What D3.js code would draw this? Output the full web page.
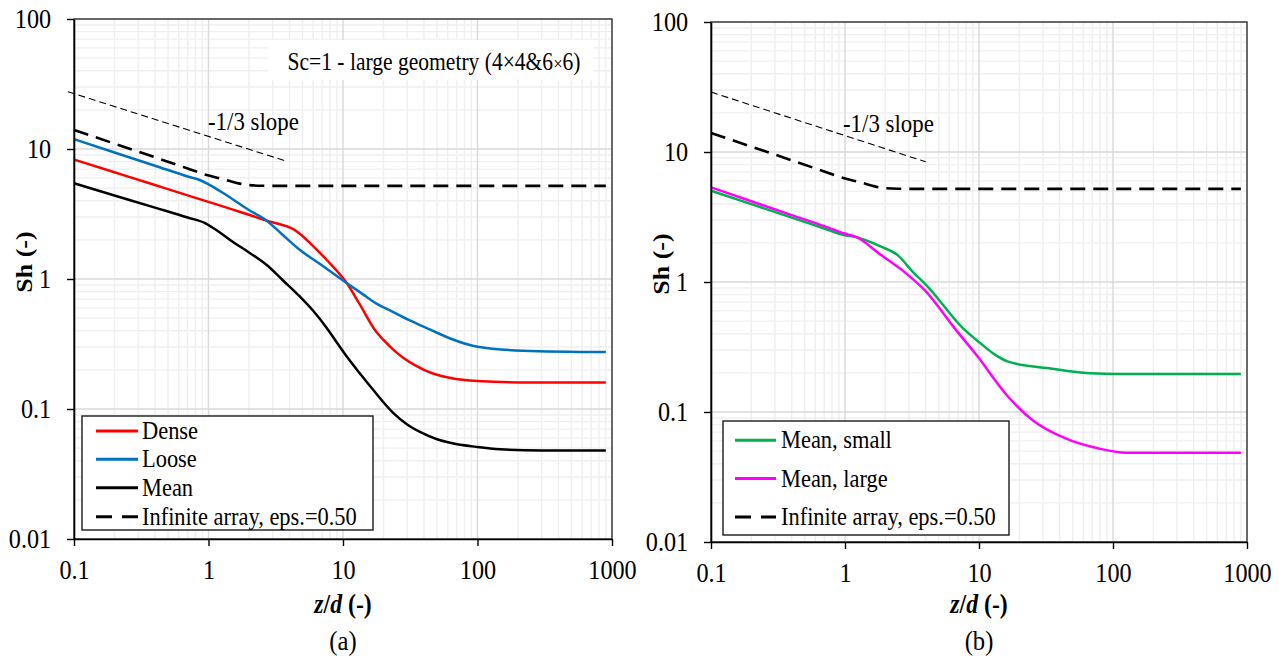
<!DOCTYPE html>
<html>
<head>
<meta charset="utf-8">
<script src="https://cdn.jsdelivr.net/npm/d3@7"></script>
<style>
  body { margin: 0; background: #fff; }
  svg { display: block; }
</style>
</head>
<body>
<div id="chart-area"></div>
<script>
// axis ticks (both panels)
const xTicks = [0.1, 1, 10, 100, 1000];
const yTicks = [0.01, 0.1, 1, 10, 100];

// panel (a) - large geometry
const denseZ  = [0.1, 0.2, 0.4, 0.7, 1.0, 1.5, 2.0, 2.71, 3.3, 3.8, 4.3, 4.8, 5.69, 7.57, 10.7, 13.3, 17.6, 20, 23.3, 28, 35, 45, 62, 100, 250, 900];
const denseSh = [8.3, 6.62, 5.28, 4.4, 3.92, 3.43, 3.12, 2.81, 2.66, 2.55, 2.41, 2.22, 1.89, 1.40, 0.927, 0.64, 0.394, 0.34, 0.29, 0.248, 0.215, 0.19, 0.174, 0.164, 0.160, 0.160];

const looseZ  = [0.1, 0.2, 0.4, 0.7, 0.87, 1.0, 1.3, 2.04, 2.71, 3.5, 4.79, 7, 10.7, 14, 17.6, 22, 30.8, 45, 62, 100, 218, 900];
const looseSh = [11.9, 9.4, 7.44, 6.15, 5.75, 5.35, 4.55, 3.35, 2.81, 2.22, 1.67, 1.27, 0.927, 0.765, 0.65, 0.578, 0.484, 0.406, 0.35, 0.301, 0.281, 0.274];

const meanZ  = [0.1, 0.2, 0.4, 0.7, 0.95, 1.2, 1.53, 2.0, 2.71, 3.6, 4.79, 6, 7.57, 9, 10.7, 13.5, 16.8, 23.7, 30, 38, 50, 62.5, 100, 147, 300, 900];
const meanSh = [5.45, 4.39, 3.54, 2.97, 2.68, 2.3, 1.92, 1.6, 1.28, 0.97, 0.731, 0.57, 0.42, 0.325, 0.252, 0.185, 0.14, 0.093, 0.076, 0.066, 0.0585, 0.055, 0.051, 0.049, 0.048, 0.048];

// infinite array, eps.=0.50 (same in both panels)
const infZ  = [0.1, 0.2, 0.4, 0.7, 0.97, 1.3, 1.6, 1.9, 2.5, 4, 10, 100, 900];
const infSh = [14, 11.0, 8.63, 7.08, 6.3, 5.85, 5.5, 5.3, 5.22, 5.2, 5.2, 5.2, 5.2];

// -1/3 slope guide lines
const slopeAZ  = [0.09, 3.7];
const slopeASh = [27.6, 8.13];
const slopeBZ  = [0.1, 4.0];
const slopeBSh = [28.9, 8.4];

// panel (b) - small vs large
const smallZ  = [0.1, 0.2, 0.4, 0.7, 0.977, 1.22, 1.86, 2.47, 3.27, 4.04, 7.6, 9.58, 13.3, 16.5, 33.2, 67, 150, 900];
const smallSh = [5.04, 3.97, 3.13, 2.58, 2.30, 2.21, 1.87, 1.61, 1.17, 0.948, 0.44, 0.358, 0.274, 0.244, 0.217, 0.199, 0.196, 0.196];

const largeZ  = [0.1, 0.2, 0.4, 0.7, 0.977, 1.22, 1.86, 2.84, 4.04, 6.59, 9.58, 16.5, 25, 47.2, 77, 126, 300, 900];
const largeSh = [5.35, 4.18, 3.27, 2.69, 2.37, 2.21, 1.61, 1.17, 0.841, 0.44, 0.274, 0.131, 0.0868, 0.061, 0.0526, 0.0486, 0.0485, 0.0485];


// canvas
const svgWidth = 1285,
      svgHeight = 659;

const FONT = "'Liberation Serif', 'Times New Roman', serif";
const SX = 0.88;   // the source picture is squeezed a bit horizontally

var svg = d3.select("#chart-area")
    .append("svg")
    .attr("width", svgWidth)
    .attr("height", svgHeight)
    .style("font-family", FONT);

// text helper: places text and squeezes it like the original
function addText(g, x, y, str, size, opts){
    opts = opts || {};
    var t = g.append("text")
	.attr("transform", "translate(" + x + "," + y + ")" +
	      (opts.rotate ? " rotate(-90) scale(1," + SX + ")" : " scale(" + SX + ",1)"))
	.attr("font-family", FONT)
	.attr("font-size", size + "px")
	.attr("text-anchor", opts.anchor || "start")
	.attr("fill", "#000");
    if (opts.bold) t.attr("font-weight", "bold");
    if (str) t.text(str);
    return t;
}

const panels = [
    {
	box: {left: 74, top: 19, width: 538, height: 520},
	series: [
	    {z: denseZ, sh: denseSh, color: "#ff0000", width: 2.5},
	    {z: looseZ, sh: looseSh, color: "#0070c0", width: 2.5},
	    {z: meanZ, sh: meanSh, color: "#000000", width: 2.5},
	    {z: infZ, sh: infSh, color: "#000000", width: 2.6, dash: "15,8"}
	],
	slope: {z: slopeAZ, sh: slopeASh, textX: 208, textY: 130},
	legend: {x: 82, y: 416, w: 291, h: 114, rows: [15, 43.3, 71.7, 100.7], lineX: [14, 56], textX: 60,
		 labels: ["Dense", "Loose", "Mean", "Infinite array, eps.=0.50"]},
	note: true,
	yTitle: [32, 262], caption: "(a)"
    },
    {
	box: {left: 711, top: 22, width: 536, height: 520},
	series: [
	    {z: smallZ, sh: smallSh, color: "#00b050", width: 2.5},
	    {z: largeZ, sh: largeSh, color: "#ff00ff", width: 2.5},
	    {z: infZ, sh: infSh, color: "#000000", width: 2.6, dash: "15,8"}
	],
	slope: {z: slopeBZ, sh: slopeBSh, textX: 843, textY: 132},
	legend: {x: 723, y: 421, w: 286, h: 114, rows: [19.3, 57.6, 96], lineX: [12, 53], textX: 58,
		 labels: ["Mean, small", "Mean, large", "Infinite array, eps.=0.50"]},
	note: false,
	yTitle: [669, 264], caption: "(b)"
    }
];

panels.forEach(drawPanel);

function drawPanel(p){
    var b = p.box;

    var xScale = d3.scaleLog()
	.domain([0.1, 1000])
	.range([b.left, b.left + b.width]);
    var yScale = d3.scaleLog()
	.domain([0.01, 100])
	.range([b.top + b.height, b.top]);

    var isMajor = function(v){
	var l = Math.log10(v);
	return Math.abs(l - Math.round(l)) < 1e-6;
    };

    // grid - minor first, majors on top
    var grid = svg.append("g");
    var xs = xScale.ticks(), ys = yScale.ticks();
    [false, true].forEach(function(major){
	grid.selectAll(null)
	    .data(xs.filter(function(v){ return isMajor(v) == major; }))
	    .enter().append("line")
	    .attr("x1", function(d){ return xScale(d); })
	    .attr("x2", function(d){ return xScale(d); })
	    .attr("y1", b.top)
	    .attr("y2", b.top + b.height)
	    .attr("stroke", major ? "#d9d9d9" : "#efefef")
	    .attr("stroke-width", 1.4);
	grid.selectAll(null)
	    .data(ys.filter(function(v){ return isMajor(v) == major; }))
	    .enter().append("line")
	    .attr("x1", b.left)
	    .attr("x2", b.left + b.width)
	    .attr("y1", function(d){ return yScale(d); })
	    .attr("y2", function(d){ return yScale(d); })
	    .attr("stroke", major ? "#d9d9d9" : "#efefef")
	    .attr("stroke-width", 1.4);
    });

    // annotation box (panel a only)
    if (p.note){
	svg.append("rect")
	    .attr("x", 268).attr("y", 40)
	    .attr("width", 325).attr("height", 40)
	    .attr("fill", "#fff");
	var note = addText(svg, 434, 70, null, 24.5, {anchor: "middle"});
	note.append("tspan").text("Sc=1 - large geometry (4");
	note.append("tspan").text("×");
	note.append("tspan").text("4&6");
	note.append("tspan").attr("font-size", "19px").text("×");
	note.append("tspan").text("6)");
    }

    // frame
    svg.append("rect")
	.attr("x", b.left).attr("y", b.top)
	.attr("width", b.width).attr("height", b.height)
	.attr("fill", "none")
	.attr("stroke", "#404040")
	.attr("stroke-width", 1.5);

    // slope guide
    var line = d3.line()
	.x(function(d){ return xScale(d[0]); })
	.y(function(d){ return yScale(d[1]); });

    svg.append("path")
	.datum(d3.zip(p.slope.z, p.slope.sh))
	.attr("d", line)
	.attr("fill", "none")
	.attr("stroke", "#000")
	.attr("stroke-width", 1.1)
	.attr("stroke-dasharray", "7,4");
    addText(svg, p.slope.textX, p.slope.textY, "-1/3 slope", 26);

    // curves
    var curve = d3.line()
	.x(function(d){ return xScale(d[0]); })
	.y(function(d){ return yScale(d[1]); })
	.curve(d3.curveMonotoneX);

    p.series.forEach(function(s){
	svg.append("path")
	    .datum(d3.zip(s.z, s.sh))
	    .attr("d", curve)
	    .attr("fill", "none")
	    .attr("stroke", s.color)
	    .attr("stroke-width", s.width)
	    .attr("stroke-dasharray", s.dash || null);
    });

    // axes
    var xAxisCall = d3.axisBottom(xScale)
	.tickValues(xTicks)
	.tickFormat(function(d){ return String(d); })
	.tickSize(7)
	.tickSizeOuter(0)
	.tickPadding(13);
    var yAxisCall = d3.axisLeft(yScale)
	.tickValues(yTicks)
	.tickFormat(function(d){ return String(d); })
	.tickSize(7)
	.tickSizeOuter(0)
	.tickPadding(19);

    [svg.append("g")
	.attr("transform", "translate(0," + (b.top + b.height) + ")")
	.call(xAxisCall),
     svg.append("g")
	.attr("transform", "translate(" + b.left + ",0)")
	.call(yAxisCall)
    ].forEach(function(ax){
	ax.attr("font-family", FONT);
	ax.select(".domain").attr("stroke", "#000").attr("stroke-width", 1.6);
	ax.selectAll(".tick line").attr("stroke", "#000").attr("stroke-width", 1.4);
	ax.selectAll(".tick text")
	    .attr("font-family", FONT)
	    .attr("font-size", "27.5px")
	    .attr("fill", "#000")
	    .attr("transform", "scale(" + SX + ",1)");
    });

    // axis titles
    addText(svg, p.yTitle[0], p.yTitle[1], "Sh (-)", 26, {rotate: true, anchor: "middle", bold: true});
    var cx = b.left + b.width / 2;
    var xTitle = addText(svg, cx, 613, null, 27, {anchor: "middle", bold: true});
    xTitle.append("tspan").attr("font-style", "italic").text("z");
    xTitle.append("tspan").text("/");
    xTitle.append("tspan").attr("font-style", "italic").text("d");
    xTitle.append("tspan").text(" (-)");
    addText(svg, cx, 650, p.caption, 28, {anchor: "middle"});

    // legend
    var lg = p.legend;
    var legend = svg.append("g")
	.attr("transform", "translate(" + lg.x + "," + lg.y + ")");
    legend.append("rect")
	.attr("width", lg.w)
	.attr("height", lg.h)
	.attr("fill", "#fff")
	.attr("stroke", "#1a1a1a")
	.attr("stroke-width", 1.4);

    p.series.forEach(function(s, i){
	var ry = lg.rows[i];
	legend.append("line")
	    .attr("x1", lg.lineX[0]).attr("x2", lg.lineX[1])
	    .attr("y1", ry).attr("y2", ry)
	    .attr("stroke", s.color)
	    .attr("stroke-width", s.width + 0.5)
	    .attr("stroke-dasharray", s.dash ? "16,10" : null);
	addText(legend, lg.textX, ry + 8, lg.labels[i], 25.5);
    });
}
</script>
</body>
</html>
